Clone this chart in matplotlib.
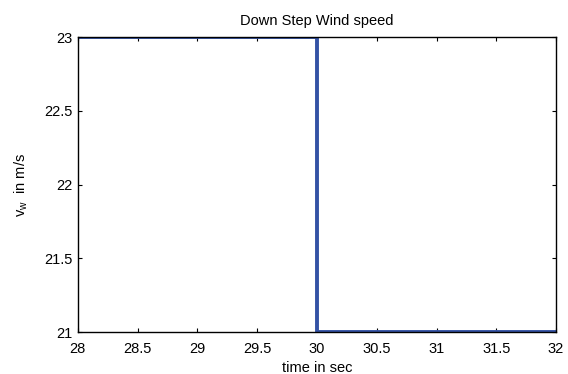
import matplotlib.pyplot as plt

plt.rcParams['font.family'] = ['Liberation Sans', 'DejaVu Sans']
plt.rcParams['mathtext.fontset'] = 'custom'
plt.rcParams['mathtext.rm'] = 'Liberation Sans'
plt.rcParams['mathtext.it'] = 'Liberation Sans'

# down step in wind speed at t = 30 s
time = [28, 30, 30, 32]
speed = [23, 23, 21, 21]
xticks = [28, 28.5, 29, 29.5, 30, 30.5, 31, 31.5, 32]
yticks = [21, 21.5, 22, 22.5, 23]

fig = plt.figure(figsize=(5.68, 3.74), dpi=100)
ax = fig.add_axes([0.137, 0.112, 0.842, 0.789])

ax.plot(time, speed, color='#3352a5', linewidth=2.8, solid_joinstyle='miter')

ax.set_xlim(28, 32)
ax.set_ylim(21, 23)
ax.set_xticks(xticks)
ax.set_xticklabels(['28', '28.5', '29', '29.5', '30', '30.5', '31', '31.5', '32'])
ax.set_yticks(yticks)
ax.set_yticklabels(['21', '21.5', '22', '22.5', '23'])
ax.tick_params(direction='in', top=True, right=True, length=3, width=0.8,
               labelsize=10.5)
ax.tick_params(axis='x', pad=7)
ax.tick_params(axis='y', pad=4)
for s in ax.spines.values():
    s.set_linewidth(1.0)

ax.set_title('Down Step Wind speed', fontsize=10.5, pad=9)
ax.set_xlabel('time in sec', fontsize=10.5, labelpad=4)
ax.set_ylabel(r'v$_{\rm w}$  in m/s', fontsize=10.5, labelpad=10)

fig.savefig('out.png', dpi=100)
